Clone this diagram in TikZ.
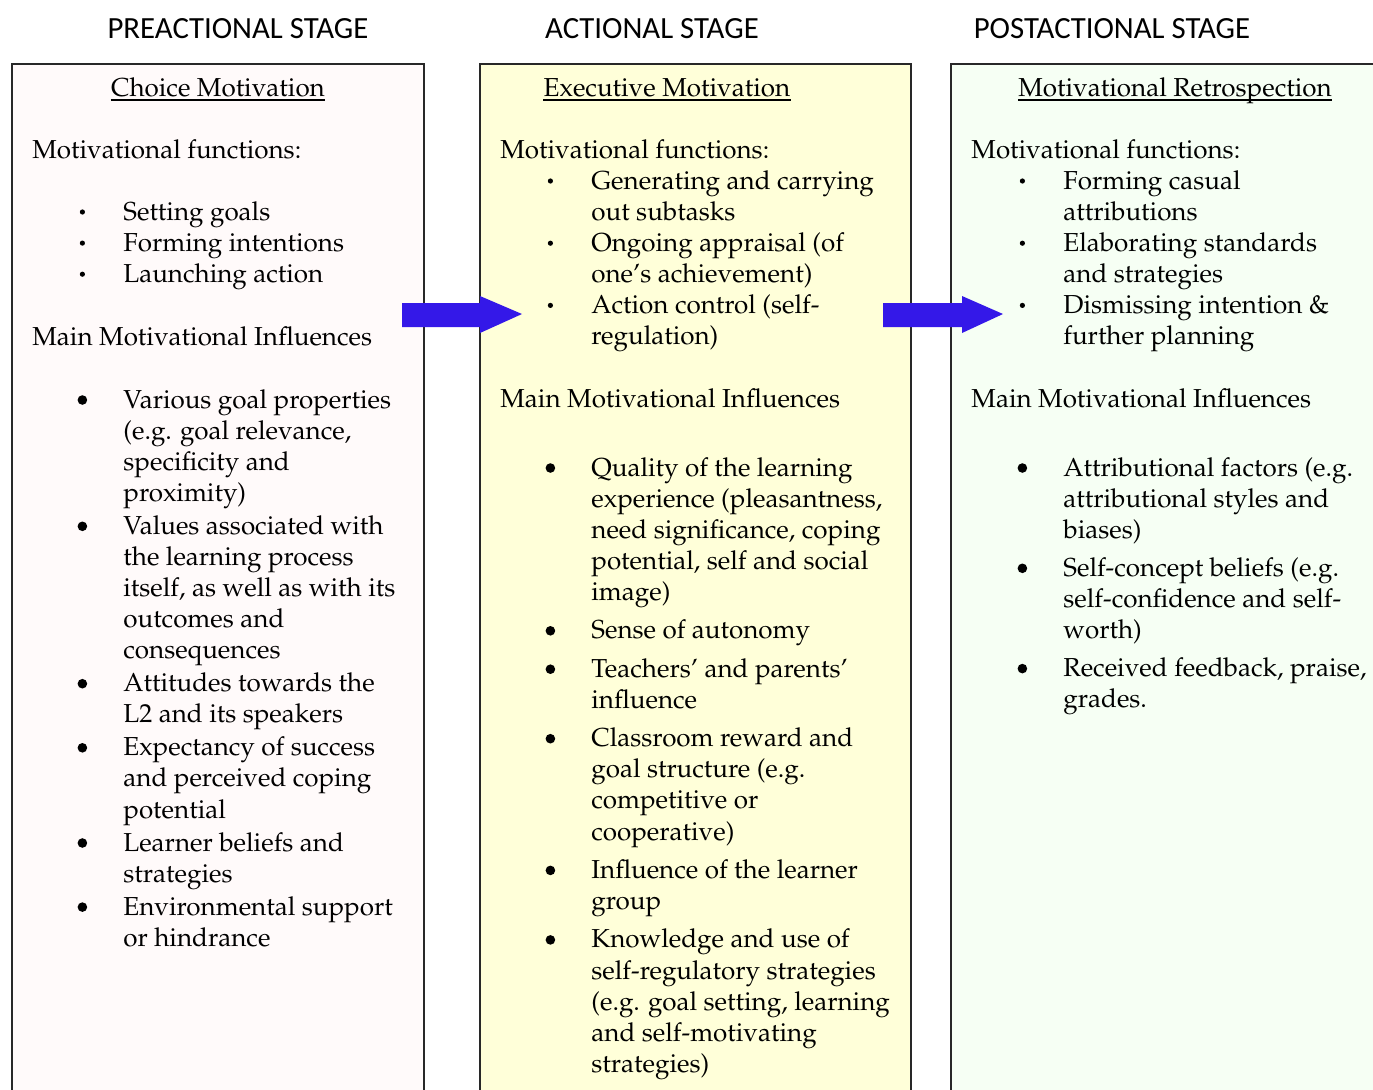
\documentclass[tikz,border=0pt]{standalone}
\usepackage[T1]{fontenc}
\usepackage{fontspec}
\usepackage{tikz}

\newfontfamily\headfont{Carlito}
\newcommand{\bodyfont}{\fontencoding{T1}\fontfamily{ppl}\fontsize{13}{15.55}\selectfont}

\definecolor{choicebg}{RGB}{255,250,250}
\definecolor{execbg}{RGB}{255,255,217}
\definecolor{retrobg}{RGB}{246,255,244}
\definecolor{arrowblue}{RGB}{52,24,232}
\definecolor{boxline}{RGB}{40,40,40}

% bullets: small ones for the functions, big ones for the influences
\newcommand{\smallbul}{\makebox[25pt][l]{\makebox[9pt]{\tikz[baseline=-4pt]\fill (0,0) circle (1.3pt);}}}
\newcommand{\bigbul}{\makebox[25pt][l]{\makebox[9pt]{\tikz[baseline=-4pt]\fill (0,0) circle (2.4pt);}}}
\newcommand{\hangin}{\hspace*{25pt}}

\begin{document}
\begin{tikzpicture}[x=0.5pt, y=-0.5pt,
    stage/.style={font=\headfont\fontsize{15.4}{18}\selectfont, anchor=base, inner sep=0},
    title/.style={font=\bodyfont, anchor=base, inner sep=0},
    body/.style={font=\bodyfont, anchor=base west, inner sep=0},
    ul/.style={line width=0.6pt},
    stagebox/.style={draw=boxline, line width=0.8pt}]
  \useasboundingbox (0,0) rectangle (1373,1089);

  % the three columns
  \draw[stagebox, fill=choicebg] (12,64) rectangle (424,1100);
  \draw[stagebox, fill=execbg] (480,64) rectangle (911,1100);
  \draw[stagebox, fill=retrobg] (951,64) rectangle (1380,1100);

  % stage headings
  \node[stage] (pre) at (238,38) {PREACTIONAL STAGE};
  \node[stage] (act) at (652,38) {ACTIONAL STAGE};
  \node[stage] (post) at (1112,38) {POSTACTIONAL STAGE};

  % block arrows
  \fill[arrowblue] (402,303) -- (480,303) -- (480,296) -- (522,314)
    -- (480,333) -- (480,327) -- (402,327) -- cycle;
  \fill[arrowblue] (883,303) -- (962,303) -- (962,296) -- (1003,314)
    -- (962,333) -- (962,327) -- (883,327) -- cycle;

  %% preactional
  \node[title] (choice) at (218,96) {Choice Motivation};
  \draw[ul] ([yshift=-2pt]choice.base west) -- ([yshift=-2pt]choice.base east);
  \node[body] (choicefun) at (32,158) {Motivational functions:};
  \node[body] (choicefunlist) at (73,220) {\begin{tabular}[t]{@{}l@{}}
    \smallbul Setting goals\\
    \smallbul Forming intentions\\
    \smallbul Launching action
  \end{tabular}};
  \node[body] (choiceinf) at (32,345) {Main Motivational Influences};
  \node[body] (choiceinflist) at (73,408) {\begin{tabular}[t]{@{}l@{}}
    \bigbul Various goal properties\\
    \hangin (e.g. goal relevance,\\
    \hangin specificity and\\
    \hangin proximity)\\[0.95pt]
    \bigbul Values associated with\\
    \hangin the learning process\\
    \hangin itself, as well as with its\\
    \hangin outcomes and\\
    \hangin consequences\\[0.95pt]
    \bigbul Attitudes towards the\\
    \hangin L2 and its speakers\\[0.95pt]
    \bigbul Expectancy of success\\
    \hangin and perceived coping\\
    \hangin potential\\[0.95pt]
    \bigbul Learner beliefs and\\
    \hangin strategies\\[0.95pt]
    \bigbul Environmental support\\
    \hangin or hindrance
  \end{tabular}};

  %% actional
  \node[title] (exec) at (667,96) {Executive Motivation};
  \draw[ul] ([yshift=-2pt]exec.base west) -- ([yshift=-2pt]exec.base east);
  \node[body] (execfun) at (500,158) {Motivational functions:};
  \node[body] (execfunlist) at (541,189) {\begin{tabular}[t]{@{}l@{}}
    \smallbul Generating and carrying\\
    \hangin out subtasks\\
    \smallbul Ongoing appraisal (of\\
    \hangin one's achievement)\\
    \smallbul Action control (self-\\
    \hangin regulation)
  \end{tabular}};
  \node[body] (execinf) at (500,407) {Main Motivational Influences};
  \node[body] (execinflist) at (541,476) {\begin{tabular}[t]{@{}l@{}}
    \bigbul Quality of the learning\\
    \hangin experience (pleasantness,\\
    \hangin need significance, coping\\
    \hangin potential, self and social\\
    \hangin image)\\[3.65pt]
    \bigbul Sense of autonomy\\[3.65pt]
    \bigbul Teachers' and parents'\\
    \hangin influence\\[3.65pt]
    \bigbul Classroom reward and\\
    \hangin goal structure (e.g.\\
    \hangin competitive or\\
    \hangin cooperative)\\[3.65pt]
    \bigbul Influence of the learner\\
    \hangin group\\[3.65pt]
    \bigbul Knowledge and use of\\
    \hangin self-regulatory strategies\\
    \hangin (e.g. goal setting, learning\\
    \hangin and self-motivating\\
    \hangin strategies)
  \end{tabular}};

  %% postactional
  \node[title] (retro) at (1175,96) {Motivational Retrospection};
  \draw[ul] ([yshift=-2pt]retro.base west) -- ([yshift=-2pt]retro.base east);
  \node[body] (retrofun) at (971,158) {Motivational functions:};
  \node[body] (retrofunlist) at (1013,189) {\begin{tabular}[t]{@{}l@{}}
    \smallbul Forming casual\\
    \hangin attributions\\
    \smallbul Elaborating standards\\
    \hangin and strategies\\
    \smallbul Dismissing intention \&\\
    \hangin further planning
  \end{tabular}};
  \node[body] (retroinf) at (971,407) {Main Motivational Influences};
  \node[body] (retroinflist) at (1013,476) {\begin{tabular}[t]{@{}l@{}}
    \bigbul Attributional factors (e.g.\\
    \hangin attributional styles and\\
    \hangin biases)\\[3.5pt]
    \bigbul Self-concept beliefs (e.g.\\
    \hangin self-confidence and self-\\
    \hangin worth)\\[3.5pt]
    \bigbul Received feedback, praise,\\
    \hangin grades.
  \end{tabular}};
\end{tikzpicture}
\end{document}
